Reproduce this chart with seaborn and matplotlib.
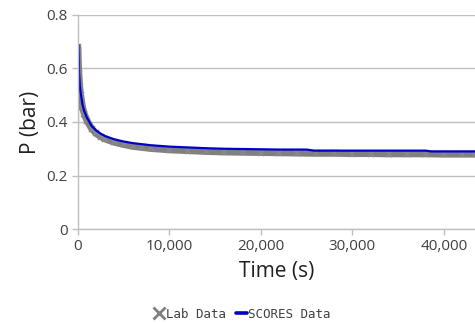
import matplotlib
matplotlib.use("Agg")
import matplotlib.pyplot as plt
import seaborn as sns
import pandas as pd
from matplotlib.lines import Line2D
from matplotlib.ticker import FuncFormatter

# Lab data (gray x markers)
lab_t = [0, 50, 100, 200, 300, 500, 700, 1000, 1500, 2000, 2500, 3000, 4000, 5000,
         6000, 7000, 8000, 10000, 12000, 14000, 16000, 18000, 20000, 22000, 24000,
         26000, 28000, 30000, 32000, 34000, 36000, 38000, 40000, 42000, 43400]
lab_p = [0.68, 0.62, 0.58, 0.53, 0.50, 0.455, 0.43, 0.405, 0.375, 0.357, 0.345, 0.336,
         0.324, 0.316, 0.309, 0.305, 0.301, 0.296, 0.293, 0.290, 0.288, 0.287, 0.286,
         0.285, 0.284, 0.283, 0.283, 0.282, 0.282, 0.281, 0.281, 0.281, 0.280, 0.280, 0.280]

# SCORES data (blue line)
sc_t = [0, 30, 60, 100, 200, 300, 500, 700, 1000, 1500, 2000, 2500, 3000, 4000, 5000,
        6000, 7000, 8000, 10000, 12000, 14000, 16000, 18000, 20000, 22000, 25000,
        25800, 30000, 35000, 38000, 38600, 43400]
sc_p = [0.37, 0.69, 0.65, 0.60, 0.54, 0.51, 0.465, 0.44, 0.415, 0.385, 0.368, 0.356,
        0.347, 0.335, 0.327, 0.321, 0.317, 0.313, 0.308, 0.305, 0.302, 0.300, 0.299,
        0.298, 0.297, 0.297, 0.293, 0.293, 0.293, 0.293, 0.290, 0.290]

x_ticks = [0, 10000, 20000, 30000, 40000]
y_ticks = [0, 0.2, 0.4, 0.6, 0.8]

sns.set_style("white")
plt.rcParams['font.family'] = ['Open Sans', 'DejaVu Sans']

fig = plt.figure(figsize=(4.75, 3.24), dpi=100)
ax = fig.add_axes([0.164, 0.293, 0.836, 0.661])

lab_df = pd.DataFrame({"t": lab_t, "p": lab_p})
sc_df = pd.DataFrame({"t": sc_t, "p": sc_p})

sns.lineplot(data=lab_df, x="t", y="p", ax=ax, color="#808080", linewidth=5,
             marker="x", markersize=4, markeredgewidth=1.2, markeredgecolor="#8a8a8a")
sns.lineplot(data=sc_df, x="t", y="p", ax=ax, color="#0000cc", linewidth=1.6)

ax.set_xlim(0, 43400)
ax.set_ylim(0, 0.8)
ax.set_xticks(x_ticks)
ax.set_yticks(y_ticks)
ax.xaxis.set_major_formatter(FuncFormatter(lambda v, p: f"{int(v):,}"))
ax.yaxis.set_major_formatter(FuncFormatter(lambda v, p: "0" if v == 0 else f"{v:.1f}"))
ax.grid(axis="y", color="#bfbfbf", linewidth=1)
ax.grid(axis="x", visible=False)
for s in ["top", "right"]:
    ax.spines[s].set_visible(False)
for s in ["left", "bottom"]:
    ax.spines[s].set_color("#bfbfbf")
    ax.spines[s].set_linewidth(1)
ax.tick_params(axis="both", which="major", length=4, width=1, color="#bfbfbf",
               labelsize=11, labelcolor="#404040", direction="out", bottom=True, left=True)
ax.set_xlabel("Time (s)", fontsize=15, color="#202020", labelpad=5)
ax.set_ylabel("P (bar)", fontsize=15, color="#202020", labelpad=4)

handles = [Line2D([], [], color="#808080", marker="x", linestyle="none", markersize=8,
                  markeredgewidth=2),
           Line2D([], [], color="#0000cc", linewidth=2.6)]
fig.legend(handles, ["Lab Data", "SCORES Data"], loc="center", bbox_to_anchor=(0.51, 0.03),
           ncol=2, frameon=False, prop={"family": "DejaVu Sans Mono", "size": 9},
           handlelength=0.9, handletextpad=0.1, columnspacing=0.8, labelcolor="#404040")

fig.savefig("out.png", dpi=100)
